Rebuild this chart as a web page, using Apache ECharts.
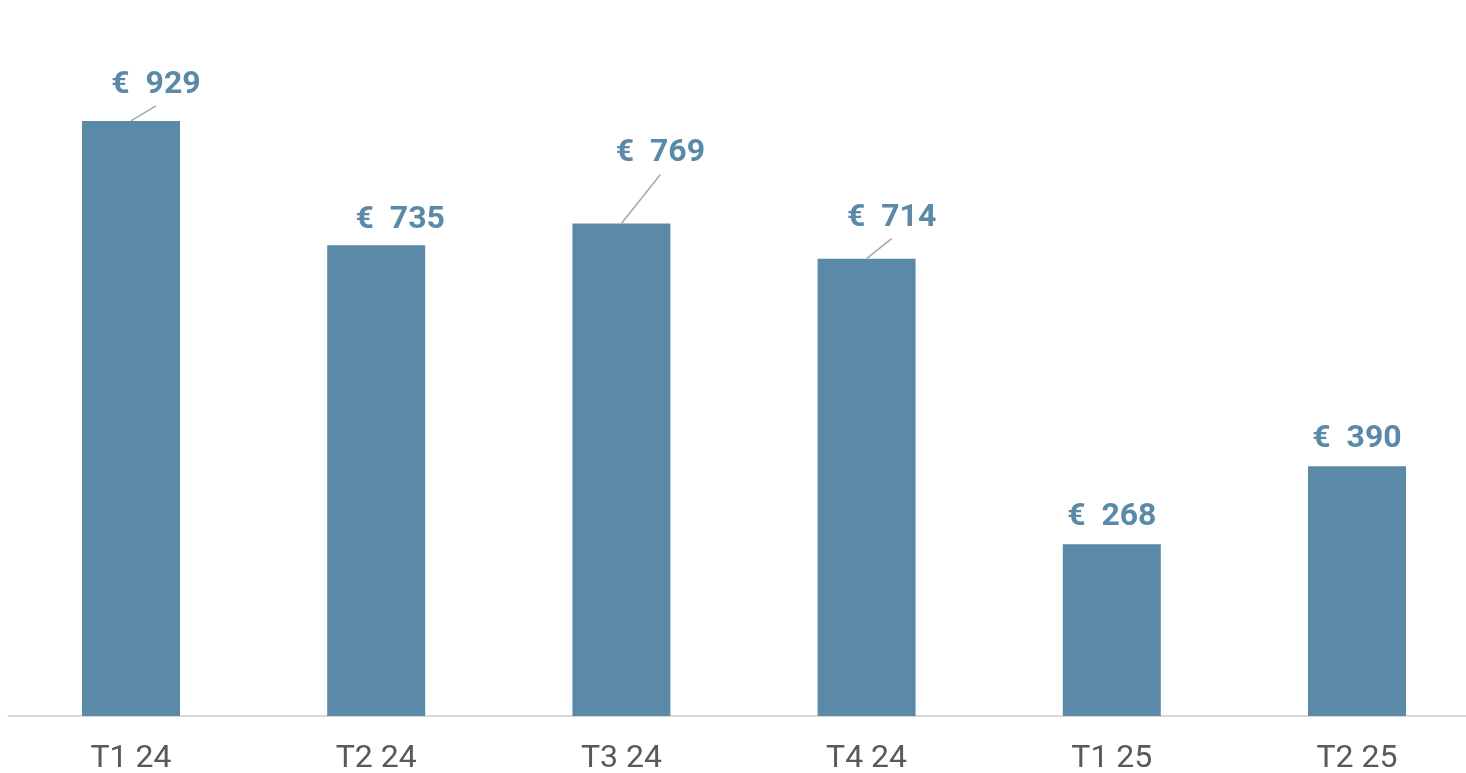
<!DOCTYPE html>
<html>
<head>
<meta charset="utf-8">
<script src="https://cdn.jsdelivr.net/npm/echarts@6/dist/echarts.min.js"></script>
<style>
  html, body { margin: 0; padding: 0; background: #fff; }
  #chart { width: 1466px; height: 773px; }
</style>
</head>
<body>
<div id="chart"></div>
<script>
// data
const categories = ["T1 24", "T2 24", "T3 24", "T4 24", "T1 25", "T2 25"];
const values = [929, 735, 769, 714, 268, 390];

// label placement relative to bar top (dx, dy, leader line)
const labelOffsets = [
  [25, -36, true],
  [24, -25, false],
  [39, -70, true],
  [25, -41, true],
  [0, -27, false],
  [0, -27, false],
];

const barColor = "#5b8aa9";
const chart = echarts.init(document.getElementById("chart"));

chart.setOption({
  animation: false,
  grid: { left: 8.4, width: 1471.2, top: 75.5, bottom: 57, outerBoundsMode: "none" },
  xAxis: {
    type: "category",
    data: categories,
    axisLine: { show: true, lineStyle: { color: "#d9d9d9", width: 2 } },
    axisTick: { show: false },
    axisLabel: { color: "#595959", fontSize: 32, fontFamily: "Roboto", margin: 27 },
  },
  yAxis: {
    type: "value",
    min: 0,
    max: 1000,
    show: false,
    splitLine: { show: false },
  },
  series: [
    {
      type: "bar",
      data: values,
      barWidth: 98,
      itemStyle: { color: barColor },
    },
    {
      type: "custom",
      data: values.map((v, i) => [i, v]),
      encode: { x: 0, y: 1 },
      clip: false,
      z: 5,
      renderItem: function (params, api) {
        const i = params.dataIndex;
        const top = api.coord([api.value(0), api.value(1)]);
        const off = labelOffsets[i];
        const cx = top[0] + off[0];
        const cy = top[1] + off[1];
        const children = [
          {
            type: "text",
            x: cx,
            y: cy,
            style: {
              text: "€  " + api.value(1),
              fill: barColor,
              font: "bold 32px Roboto",
              align: "center",
              verticalAlign: "middle",
            },
          },
        ];
        if (off[2]) {
          children.push({
            type: "line",
            shape: { x1: cx, y1: cy + 21, x2: top[0], y2: top[1] },
            style: { stroke: "#a6a6a6", lineWidth: 1.5 },
          });
        }
        return { type: "group", children: children };
      },
    },
  ],
});
</script>
</body>
</html>
